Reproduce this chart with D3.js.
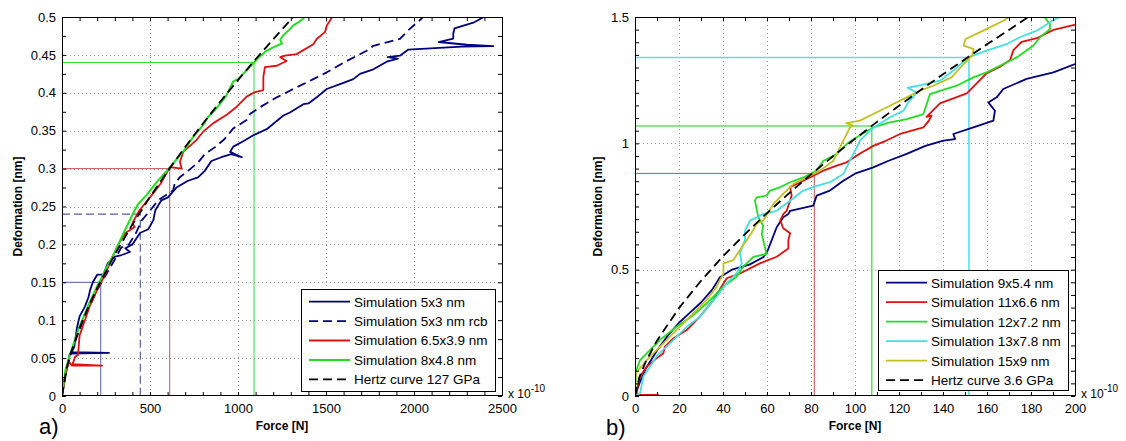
<!DOCTYPE html>
<html><head><meta charset="utf-8">
<script src="https://cdn.jsdelivr.net/npm/d3@7"></script>
<style>
body{margin:0;background:#fff}
svg{display:block}
text{font-family:"Liberation Sans",Arial,sans-serif;fill:#000}
.grid{stroke:#9a9a9a;stroke-width:1;stroke-dasharray:1,3}
</style>
</head><body>
<svg id="c" width="1126" height="441"></svg>
<script>
// ---------- Panel a) data : [force (x1e-10 N), deformation (nm)] ----------
const aXTicks = [0,500,1000,1500,2000,2500];
const aXLabels = ["0","500","1000","1500","2000","2500"];
const aXMinor = d3.range(0,2501,100);
const aYTicks = [0,0.05,0.1,0.15,0.2,0.25,0.3,0.35,0.4,0.45,0.5];
const aYLabels = ["0","0.05","0.1","0.15","0.2","0.25","0.3","0.35","0.4","0.45","0.5"];
const aYMinor = d3.range(0,0.5001,0.025);

const a_sim5x3 = [[0,0],[15,0.02],[30,0.04],[45,0.056],[267,0.057],[55,0.058],[70,0.065],[85,0.09],[100,0.105],[130,0.118],[150,0.13],[160,0.14],[175,0.15],[200,0.16],[235,0.16],[260,0.175],[301,0.184],[339,0.186],[386,0.19],[360,0.195],[400,0.2],[443,0.215],[490,0.22],[519,0.232],[530,0.245],[564,0.258],[602,0.262],[650,0.275],[716,0.284],[773,0.2885],[811,0.297],[849,0.31],[905,0.315],[962,0.319],[1022,0.315],[955,0.322],[973,0.329],[1030,0.336],[1087,0.344],[1163,0.352],[1258,0.37],[1295,0.374],[1371,0.385],[1400,0.386],[1447,0.394],[1504,0.405],[1580,0.4115],[1655,0.418],[1693,0.425],[1769,0.431],[1845,0.441],[1909,0.445],[1850,0.447],[1920,0.449],[1968,0.457],[2271,0.461],[2451,0.4616],[2300,0.4634],[2140,0.467],[2223,0.4716],[2223,0.478],[2230,0.485],[2337,0.4925],[2394,0.4996],[2400,0.505]];
const a_sim5x3rcb = [[0,0],[20,0.03],[50,0.056],[100,0.088],[150,0.115],[200,0.14],[250,0.16],[300,0.18],[337,0.196],[380,0.2],[420,0.215],[451,0.231],[498,0.244],[545,0.2577],[583,0.264],[631,0.271],[640,0.28],[669,0.2885],[716,0.297],[773,0.308],[811,0.319],[868,0.328],[924,0.339],[973,0.353],[1049,0.364],[1068,0.372],[1125,0.381],[1220,0.394],[1314,0.405],[1428,0.418],[1504,0.427],[1618,0.442],[1731,0.4555],[1769,0.462],[1845,0.4666],[1920,0.471],[1968,0.4827],[2034,0.496],[2072,0.505]];
const a_sim65x39 = [[0,0],[20,0.03],[40,0.045],[57,0.04],[228,0.04],[60,0.042],[75,0.052],[91,0.054],[100,0.08],[130,0.1],[160,0.12],[200,0.14],[244,0.16],[280,0.18],[320,0.2],[360,0.215],[413,0.223],[400,0.228],[440,0.245],[500,0.262],[560,0.28],[613,0.302],[680,0.3],[670,0.309],[689,0.322],[765,0.338],[803,0.349],[860,0.36],[936,0.371],[993,0.3816],[1049,0.395],[1097,0.401],[1144,0.4036],[1144,0.421],[1153,0.434],[1220,0.4357],[1276,0.442],[1240,0.447],[1267,0.449],[1333,0.451],[1428,0.464],[1447,0.471],[1494,0.48],[1504,0.4885],[1532,0.4986],[1535,0.505]];
const a_sim8x48 = [[0,0],[20,0.035],[50,0.058],[100,0.092],[150,0.12],[200,0.145],[250,0.168],[300,0.19],[350,0.215],[413,0.245],[432,0.253],[480,0.265],[545,0.284],[600,0.298],[650,0.312],[700,0.326],[746,0.342],[800,0.357],[830,0.368],[879,0.38],[930,0.395],[973,0.415],[1000,0.418],[1050,0.43],[1091,0.44],[1120,0.447],[1160,0.455],[1200,0.46],[1250,0.465],[1240,0.47],[1257,0.476],[1290,0.483],[1314,0.489],[1350,0.494],[1381,0.5],[1390,0.505]];
const a_hertz = [[0,0],[25,0.0356],[50,0.0566],[100,0.0898],[150,0.1177],[200,0.1425],[300,0.1868],[400,0.2263],[500,0.2626],[600,0.2965],[700,0.3286],[800,0.3592],[900,0.3886],[1000,0.4168],[1100,0.4443],[1200,0.4706],[1314,0.5]];
// reference marks (force, deformation)
const aRefs = [[220,0.15],[445,0.24],[612,0.30],[1091,0.44]];

// ---------- Panel b) data ----------
const bXTicks = [0,20,40,60,80,100,120,140,160,180,200];
const bXLabels = ["0","20","40","60","80","100","120","140","160","180","200"];
const bXMinor = d3.range(0,201,10);
const bYTicks = [0,0.5,1,1.5];
const bYLabels = ["0","0.5","1","1.5"];
const bYMinor = d3.range(0,1.5001,0.05);

const b_sim9x54 = [[0,0],[2,0.05],[5,0.11],[10,0.18],[15,0.24],[20,0.29],[25,0.33],[30,0.37],[35,0.42],[38.6,0.47],[44,0.5],[47.7,0.509],[52,0.52],[58.3,0.549],[60,0.57],[61.4,0.6],[64.4,0.668],[67.4,0.707],[69.7,0.72],[70.5,0.733],[81,0.753],[82.6,0.793],[88.6,0.813],[94.7,0.852],[100,0.88],[108.3,0.905],[115,0.93],[123.5,0.958],[132,0.99],[140.2,1.011],[145.5,1.017],[144.7,1.037],[153.8,1.063],[162.9,1.09],[163.6,1.129],[160.6,1.162],[164.4,1.182],[167.4,1.215],[178,1.255],[190.2,1.281],[200,1.314]];
const b_sim11x66 = [[0,0],[10.6,0.004],[0.8,0.004],[1,0.03],[2.3,0.077],[5.3,0.116],[9.8,0.149],[12.9,0.169],[13.6,0.195],[17.4,0.228],[23.5,0.261],[29.5,0.314],[35.6,0.38],[41.7,0.466],[47.7,0.485],[56.8,0.525],[64.4,0.551],[69.7,0.584],[69.7,0.617],[70.5,0.644],[67.4,0.664],[66,0.694],[67.4,0.72],[68.9,0.733],[70.5,0.773],[71.2,0.793],[70.5,0.826],[73.5,0.839],[79.5,0.865],[85.6,0.892],[91.7,0.912],[96.2,0.925],[102.3,0.96],[108.3,0.99],[114,1.01],[120.5,1.037],[131.1,1.063],[133.6,1.09],[134.8,1.11],[132.5,1.105],[138.6,1.158],[150.8,1.198],[155.3,1.237],[159.8,1.277],[165.9,1.303],[170.5,1.33],[172,1.369],[175.8,1.402],[182.6,1.416],[190.2,1.449],[199.2,1.468],[201,1.47]];
const b_sim12x72 = [[0,0],[0.5,0.1],[2.3,0.142],[6.8,0.182],[11.4,0.222],[18.9,0.274],[26.5,0.32],[32.6,0.367],[40.2,0.433],[46.2,0.472],[49.2,0.512],[53.8,0.551],[59.8,0.562],[57.6,0.641],[58.3,0.674],[56.1,0.707],[54.5,0.773],[55.3,0.786],[59.8,0.793],[61.4,0.813],[65.9,0.826],[70.5,0.846],[76.5,0.865],[82.6,0.892],[85.6,0.931],[91.7,0.958],[96.2,0.997],[100.8,1.024],[108.3,1.063],[115.9,1.083],[123.5,1.096],[131.1,1.116],[132.6,1.156],[134.1,1.195],[138.6,1.208],[146.2,1.228],[153.8,1.261],[159.8,1.281],[165.9,1.307],[173.5,1.34],[181.1,1.387],[184.1,1.42],[188.6,1.452],[188.6,1.472],[185.6,1.505]];
const b_sim13x78 = [[0,0],[1,0.005],[2.3,0.011],[3.8,0.077],[6.8,0.116],[10,0.16],[15.9,0.208],[23.5,0.274],[29.5,0.314],[37.1,0.393],[41.7,0.446],[46.2,0.485],[48.5,0.525],[47.7,0.565],[50,0.617],[50,0.654],[52.3,0.694],[58.3,0.72],[64.4,0.733],[70.5,0.773],[76.5,0.813],[82.6,0.832],[88.6,0.846],[94.7,0.879],[97.7,0.931],[102.3,1.011],[107.6,1.057],[115.9,1.103],[122,1.129],[124.2,1.162],[128,1.2],[124,1.22],[130,1.23],[138.6,1.248],[144.7,1.288],[151.5,1.34],[159.8,1.367],[168.9,1.393],[175,1.42],[182.6,1.446],[188.6,1.479],[194,1.505]];
const b_sim15x9 = [[0,0],[0.3,0.09],[5.3,0.142],[11.4,0.195],[18.9,0.261],[26.5,0.327],[32.6,0.38],[37.1,0.433],[40.2,0.485],[40.2,0.525],[44.7,0.538],[47.7,0.578],[50.8,0.617],[53.8,0.657],[55.3,0.683],[58.3,0.694],[62.9,0.76],[67.4,0.8],[71.9,0.839],[78,0.865],[84.1,0.892],[90.2,0.931],[94.7,1.011],[97.7,1.063],[99.2,1.07],[96,1.08],[102.3,1.09],[108.3,1.116],[115.9,1.149],[123.5,1.182],[129.5,1.208],[135.6,1.228],[143.9,1.261],[149.4,1.314],[153.2,1.347],[154,1.373],[149.4,1.387],[150.2,1.413],[158.3,1.446],[167.4,1.485],[171,1.505]];
const b_hertz = [[0,0],[2,0.075],[5,0.138],[10,0.219],[20,0.348],[30,0.456],[40,0.553],[50,0.641],[60,0.724],[70,0.802],[80,0.877],[90,0.949],[100,1.018],[110,1.085],[120,1.149],[130,1.212],[140,1.273],[150,1.333],[160,1.392],[170,1.449],[178.8,1.5]];
const bRefs = [[81.5,0.881],[107.6,1.0686],[151.8,1.34]];

// ---------- drawing ----------
const svg = d3.select("#c");
const W = 440, H = 379;

function panel(c){
  const g = svg.append("g").attr("transform",`translate(${c.left},${c.top})`);
  const x = d3.scaleLinear().domain(c.xDomain).range([0,W]);
  const y = d3.scaleLinear().domain(c.yDomain).range([H,0]);
  const line = d3.line().x(d=>x(d[0])).y(d=>y(d[1]));

  // grid
  g.append("g").selectAll("line").data(c.xGrid).join("line").attr("class","grid")
    .attr("x1",d=>Math.round(x(d))+0.5).attr("x2",d=>Math.round(x(d))+0.5).attr("y1",0).attr("y2",H);
  g.append("g").selectAll("line").data(c.yGrid).join("line").attr("class","grid")
    .attr("y1",d=>Math.round(y(d))+0.5).attr("y2",d=>Math.round(y(d))+0.5).attr("x1",0).attr("x2",W);

  const cid = "clip_"+c.name;
  svg.append("clipPath").attr("id",cid).append("rect").attr("width",W).attr("height",H);
  const pg = g.append("g").attr("clip-path",`url(#${cid})`);

  // reference lines
  c.refs.forEach((r,i)=>{
    const st = c.refStyles[i];
    pg.append("path").attr("d",line([[c.xDomain[0],r[1]],[r[0],r[1]],[r[0],c.yDomain[0]]]))
      .attr("fill","none").attr("stroke",st.color).attr("stroke-width",st.width)
      .attr("stroke-dasharray",st.dash||null);
  });

  // series
  c.series.forEach(s=>{
    pg.append("path").datum(s.data).attr("d",line).attr("fill","none")
      .attr("stroke",s.color).attr("stroke-width",s.width)
      .attr("stroke-linejoin","round").attr("stroke-dasharray",s.dash||null);
  });

  // ticks (all four sides, inward)
  const tl = 4;
  const mk = (axis, tr)=>{ const a = g.append("g").attr("transform",tr).call(axis); a.select(".domain").remove(); return a; };
  mk(d3.axisBottom(x).tickValues(c.xMinor).tickSizeInner(-tl).tickSizeOuter(0).tickFormat(""),`translate(0,${H})`);
  mk(d3.axisTop(x).tickValues(c.xMinor).tickSizeInner(-tl).tickSizeOuter(0).tickFormat(""),`translate(0,0)`);
  mk(d3.axisLeft(y).tickValues(c.yMinor).tickSizeInner(-tl).tickSizeOuter(0).tickFormat(""),`translate(0,0)`);
  mk(d3.axisRight(y).tickValues(c.yMinor).tickSizeInner(-tl).tickSizeOuter(0).tickFormat(""),`translate(${W},0)`);
  // labels
  const xl = mk(d3.axisBottom(x).tickValues(c.xTicks).tickSize(0).tickPadding(8).tickFormat((d,i)=>c.xLabels[i]),`translate(0,${H})`);
  xl.selectAll("text").attr("font-size",13).attr("fill","#111");
  const yl = mk(d3.axisLeft(y).tickValues(c.yTicks).tickSize(0).tickPadding(6).tickFormat((d,i)=>c.yLabels[i]),`translate(0,0)`);
  yl.selectAll("text").attr("font-size",13).attr("fill","#111");
  g.selectAll(".tick line").attr("stroke","#000");
  g.selectAll(".tick text").attr("font-family","Liberation Sans, Arial, sans-serif");

  // frame
  g.append("rect").attr("x",0.5).attr("y",0.5).attr("width",W).attr("height",H-1)
    .attr("fill","none").attr("stroke","#000").attr("stroke-width",1);

  // axis titles
  svg.append("text").attr("x",c.left+W/2).attr("y",430).attr("text-anchor","middle")
    .attr("font-size",12).attr("font-weight","bold").text("Force [N]");
  svg.append("text").attr("transform",`translate(${c.ylabX},${c.top+H/2}) rotate(-90)`)
    .attr("text-anchor","middle").attr("font-size",12).attr("font-weight","bold").text("Deformation [nm]");
  // exponent
  const ex = svg.append("text").attr("x",c.left+W+6).attr("y",398).attr("font-size",12).attr("fill","#111");
  ex.append("tspan").text("x 10");
  ex.append("tspan").attr("dy",-6).attr("font-size",10).text("-10");
  // panel letter
  svg.append("text").attr("x",c.letterX).attr("y",c.letterY).attr("font-size",22)
    .attr("font-family","Liberation Serif, Times New Roman, serif").text(c.letter);

  // legend
  const L = c.legend;
  const lg = svg.append("g");
  lg.append("rect").attr("x",L.x+0.5).attr("y",L.y+0.5).attr("width",L.w).attr("height",L.h)
    .attr("fill","#fff").attr("stroke","#000").attr("stroke-width",1);
  c.series.forEach((s,i)=>{
    const yy = L.y + L.first + i*L.step;
    lg.append("line").attr("x1",L.x+8).attr("x2",L.x+49).attr("y1",yy).attr("y2",yy)
      .attr("stroke",s.color).attr("stroke-width",s.width).attr("stroke-dasharray",s.dash||null);
    lg.append("text").attr("x",L.x+53).attr("y",yy).attr("dy","0.36em").attr("font-size",13.5).text(s.name);
  });
}

panel({
  name:"a", left:62, top:17, xDomain:[0,2500], yDomain:[0,0.5],
  xTicks:aXTicks, xLabels:aXLabels, xMinor:aXMinor, yTicks:aYTicks, yLabels:aYLabels, yMinor:aYMinor,
  xGrid:aXTicks.slice(1,-1), yGrid:aYTicks.slice(1,-1),
  refs:aRefs,
  refStyles:[{color:"#5560a0",width:1},{color:"#5560a0",width:1.2,dash:"8,4"},{color:"#cc5555",width:1},{color:"#33dd33",width:1}],
  series:[
    {name:"Simulation 5x3 nm", data:a_sim5x3, color:"#00007f", width:1.8},
    {name:"Simulation 5x3 nm rcb", data:a_sim5x3rcb, color:"#00007f", width:1.8, dash:"9,5"},
    {name:"Simulation 6.5x3.9 nm", data:a_sim65x39, color:"#e01010", width:1.8},
    {name:"Simulation 8x4.8 nm", data:a_sim8x48, color:"#22dd22", width:2},
    {name:"Hertz curve 127 GPa", data:a_hertz, color:"#000", width:1.8, dash:"9,5"}
  ],
  legend:{x:301,y:289,w:194,h:102,first:12.7,step:19.4},
  ylabX:22, letter:"a)", letterX:39, letterY:434
});

panel({
  name:"b", left:635, top:17, xDomain:[0,200], yDomain:[0,1.5],
  xTicks:bXTicks, xLabels:bXLabels, xMinor:bXMinor, yTicks:bYTicks, yLabels:bYLabels, yMinor:bYMinor,
  xGrid:bXTicks.slice(1,-1), yGrid:bYTicks.slice(1,-1),
  refs:bRefs,
  refStyles:[{color:"#c85050",width:1},{color:"#66dd66",width:1.6},{color:"#55e0e8",width:1.6}],
  series:[
    {name:"Simulation 9x5.4 nm", data:b_sim9x54, color:"#00007f", width:1.8},
    {name:"Simulation 11x6.6 nm", data:b_sim11x66, color:"#e01010", width:1.8},
    {name:"Simulation 12x7.2 nm", data:b_sim12x72, color:"#22dd22", width:1.8},
    {name:"Simulation 13x7.8 nm", data:b_sim13x78, color:"#44e0e0", width:1.8},
    {name:"Simulation 15x9 nm", data:b_sim15x9, color:"#c0c020", width:1.8},
    {name:"Hertz curve 3.6 GPa", data:b_hertz, color:"#000", width:1.8, dash:"9,5"}
  ],
  legend:{x:878,y:270,w:190,h:120,first:12.7,step:19.5},
  ylabX:602, letter:"b)", letterX:606, letterY:435
});
</script>
</body></html>
